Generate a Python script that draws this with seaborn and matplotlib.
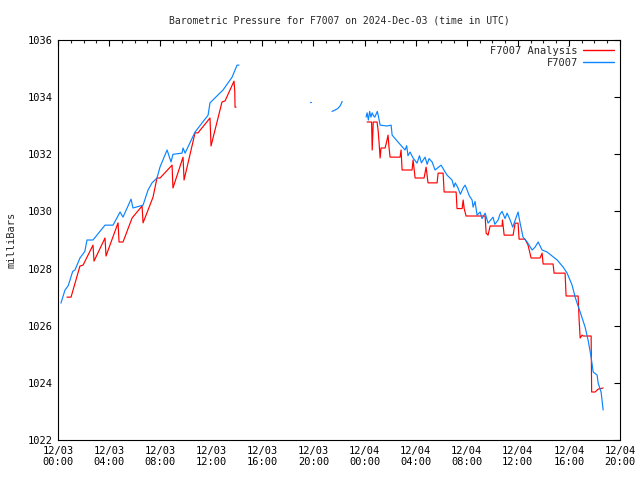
import numpy as np
import pandas as pd
import matplotlib
matplotlib.use("Agg")
import matplotlib.pyplot as plt
import seaborn as sns
from matplotlib.lines import Line2D
from matplotlib.ticker import MultipleLocator

# hours since 12/03 00:00 UTC, pressure in mb; segments split by gaps
an1_h = [0.7, 1.02, 1.72, 1.96, 2.74, 2.82, 3.68, 3.76, 4.7, 4.78, 5.09, 5.8, 6.58, 6.66,
         7.44, 7.75, 7.99, 8.93, 9.0, 9.79, 9.87, 10.73, 10.96, 11.9, 11.98, 12.84, 13.08,
         13.78, 13.84, 13.86, 13.94]
an1_v = [1027.0, 1027.0, 1028.09, 1028.12, 1028.82, 1028.26, 1029.07, 1028.44, 1029.6, 1028.93,
         1028.93, 1029.77, 1030.19, 1029.6, 1030.5, 1031.17, 1031.17, 1031.62, 1030.82, 1031.9,
         1031.1, 1032.75, 1032.75, 1033.27, 1032.29, 1033.83, 1033.87, 1034.56, 1034.2,
         1033.65, 1033.65]

an2_h = [24.2, 24.55, 24.6, 24.68, 24.98, 25.06, 25.14, 25.22, 25.29, 25.61, 25.76, 25.84,
         25.92, 26.0, 26.78, 26.86, 26.94, 27.72, 27.8, 27.96, 28.66, 28.82, 28.97, 29.68,
         29.76, 30.15, 30.23, 31.17, 31.24, 31.64, 31.72, 31.8, 31.95, 33.44, 33.52, 33.67,
         33.83, 34.77, 34.8, 34.93, 35.63, 35.79, 36.02, 36.1, 36.57, 36.8, 37.04, 37.74,
         37.9, 37.98, 38.76, 38.84, 39.7, 39.78, 40.72, 40.8, 40.88, 41.03, 41.11, 41.74,
         41.78, 42.05, 42.29, 42.68]
an2_v = [1033.13, 1033.13, 1032.15, 1033.13, 1033.13, 1032.85, 1032.39, 1031.87, 1032.22,
         1032.22, 1032.5, 1032.67, 1032.22, 1031.9, 1031.9, 1032.15, 1031.45, 1031.45, 1031.8,
         1031.17, 1031.17, 1031.55, 1031.0, 1031.0, 1031.34, 1031.34, 1030.68, 1030.68,
         1030.1, 1030.1, 1030.4, 1030.1, 1029.84, 1029.84, 1029.24, 1029.17, 1029.49, 1029.49,
         1029.7, 1029.17, 1029.17, 1029.59, 1029.59, 1029.03, 1029.03, 1028.82, 1028.37,
         1028.37, 1028.54, 1028.16, 1028.16, 1027.84, 1027.84, 1027.04, 1027.04, 1026.2,
         1025.57, 1025.67, 1025.64, 1025.64, 1023.68, 1023.68, 1023.78, 1023.82]

ob1_h = [0.23, 0.55, 0.8, 0.94, 1.15, 1.33, 1.72, 2.1, 2.27, 2.74, 3.1, 3.68, 4.31, 4.86, 5.09,
         5.72, 5.87, 6.66, 7.05, 7.36, 7.75, 7.99, 8.54, 8.85, 9.0, 9.71, 9.79, 9.95, 10.73,
         11.75, 11.9, 12.92, 13.63, 14.02, 14.17]
ob1_v = [1026.79, 1027.25, 1027.4, 1027.6, 1027.9, 1027.95, 1028.37, 1028.6, 1029.0, 1029.0,
         1029.2, 1029.52, 1029.52, 1029.98, 1029.8, 1030.43, 1030.12, 1030.22, 1030.75,
         1031.0, 1031.17, 1031.56, 1032.15, 1031.73, 1032.0, 1032.04, 1032.22, 1032.04,
         1032.78, 1033.37, 1033.8, 1034.25, 1034.7, 1035.12, 1035.12]

ob2_h = [19.7, 19.78]
ob2_v = [1033.83, 1033.83]

ob3_h = [21.45, 21.7, 21.9, 22.1, 22.25]
ob3_v = [1033.5, 1033.55, 1033.6, 1033.7, 1033.85]

ob4_h = [24.12, 24.2, 24.3, 24.4, 24.5, 24.6, 24.7, 24.8, 24.9, 25.0, 25.1, 25.22, 25.76,
         26.08, 26.16, 26.62, 27.17, 27.3, 27.4, 27.56, 27.8, 28.11, 28.3, 28.45, 28.74,
         28.9, 29.05, 29.29, 29.52, 29.99, 30.46, 30.85, 31.0, 31.1, 31.32, 31.5, 31.72,
         31.87, 32.03, 32.2, 32.42, 32.5, 32.65, 32.81, 33.05, 33.2, 33.44, 33.67, 34.06,
         34.2, 34.46, 34.6, 34.77, 35.0, 35.16, 35.4, 35.6, 36.02, 36.18, 36.41, 36.73,
         37.12, 37.35, 37.59, 37.9, 38.29, 39.08, 39.55, 39.86, 40.25, 40.49, 40.64, 40.88,
         41.27, 41.5, 41.74, 41.9, 42.21, 42.29, 42.52, 42.68]
ob4_v = [1033.3, 1033.45, 1033.2, 1033.5, 1033.3, 1033.45, 1033.35, 1033.3, 1033.4, 1033.5,
         1033.3, 1033.02, 1032.99, 1033.02, 1032.67, 1032.43, 1032.15, 1032.3, 1031.95,
         1032.08, 1031.87, 1031.69, 1031.95, 1031.7, 1031.9, 1031.65, 1031.85, 1031.73,
         1031.45, 1031.62, 1031.27, 1031.1, 1030.85, 1031.0, 1030.82, 1030.6, 1030.82,
         1030.92, 1030.75, 1030.55, 1030.4, 1030.15, 1030.35, 1029.87, 1029.98, 1029.75,
         1029.94, 1029.59, 1029.8, 1029.55, 1029.7, 1029.9, 1030.0, 1029.75, 1029.94,
         1029.7, 1029.45, 1029.98, 1029.59, 1029.1, 1028.93, 1028.65, 1028.75, 1028.93,
         1028.65, 1028.58, 1028.3, 1028.05, 1027.84, 1027.42, 1027.0, 1026.79, 1026.48,
         1025.95, 1025.5, 1024.9, 1024.38, 1024.27, 1023.99, 1023.68, 1023.05]

tick_labels = ["12/03\n00:00", "12/03\n04:00", "12/03\n08:00", "12/03\n12:00",
               "12/03\n16:00", "12/03\n20:00", "12/04\n00:00", "12/04\n04:00",
               "12/04\n08:00", "12/04\n12:00", "12/04\n16:00", "12/04\n20:00"]


def frame(segs):
    parts = []
    for i, (h, v) in enumerate(segs):
        parts.append(pd.DataFrame({"hour": h, "mb": v, "seg": i}))
    return pd.concat(parts, ignore_index=True)


analysis = frame([(an1_h, an1_v), (an2_h, an2_v)])
obs = frame([(ob1_h, ob1_v), (ob2_h, ob2_v), (ob3_h, ob3_v), (ob4_h, ob4_v)])

sns.set_style("white")
plt.rcParams["font.family"] = ["DejaVu Sans Mono"]

red = "#ff0000"
blue = "#0a84ff"

fig = plt.figure(figsize=(6.4, 4.8), dpi=100)
ax = fig.add_axes([58 / 640, 40 / 480, 562 / 640, 400 / 480])

sns.lineplot(data=analysis, x="hour", y="mb", units="seg", estimator=None, sort=False,
             color=red, linewidth=0.85, ax=ax)
sns.lineplot(data=obs, x="hour", y="mb", units="seg", estimator=None, sort=False,
             color=blue, linewidth=0.85, ax=ax)

ax.set_xlim(0, 44)
ax.set_ylim(1022, 1036)
ax.set_xticks(np.arange(0, 45, 4))
ax.set_xticklabels(tick_labels)
ax.xaxis.set_minor_locator(MultipleLocator(1))
ax.set_yticks(np.arange(1022, 1037, 2))
ax.tick_params(axis="both", which="major", direction="in", length=4, width=0.8,
               top=True, right=True, labelsize=7.5, colors="black", pad=4)
ax.tick_params(axis="x", which="minor", direction="in", length=2, width=0.8, top=True)
for s in ax.spines.values():
    s.set_color("black")
    s.set_linewidth(0.8)

ax.set_xlabel("")
ax.set_ylabel("milliBars", fontsize=7.5, labelpad=8)
ax.set_title("Barometric Pressure for F7007 on 2024-Dec-03 (time in UTC)",
             fontsize=7, pad=12)

handles = [Line2D([], [], color=red, linewidth=1.0),
           Line2D([], [], color=blue, linewidth=1.0)]
ax.legend(handles, ["F7007 Analysis", "F7007"], loc="upper right", frameon=False,
          markerfirst=False, fontsize=7.5, handlelength=3.0, handletextpad=0.5,
          labelspacing=0.2, borderaxespad=0.15)

plt.savefig("out.png", dpi=100)
